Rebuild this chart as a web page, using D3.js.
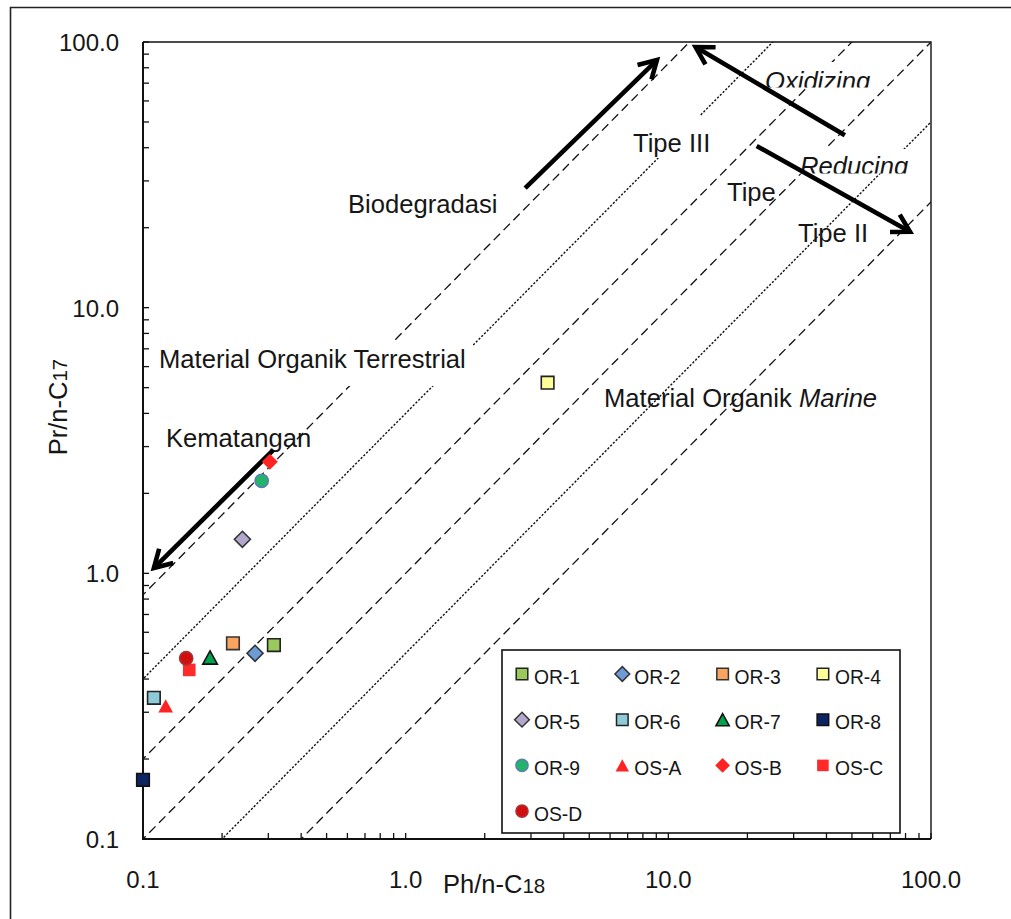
<!DOCTYPE html>
<html>
<head>
<meta charset="utf-8">
<script src="https://cdn.jsdelivr.net/npm/d3@7"></script>
<style>
  html, body { margin: 0; padding: 0; background: #fff; overflow: hidden; }
  svg { display: block; font-family: "Liberation Sans", Arial, Helvetica, sans-serif; }
</style>
</head>
<body>
<svg id="chart" width="1011" height="919"></svg>
<script>
// Pristane/n-C17 vs Phytane/n-C18 per sample
const sampleNames = ["OR-1", "OR-2", "OR-3", "OR-4", "OR-5", "OR-6", "OR-7",
                     "OR-8", "OR-9", "OS-A", "OS-B", "OS-C", "OS-D"];
const phC18 = [0.315, 0.267, 0.220, 3.47, 0.239, 0.110, 0.180,
               0.100, 0.283, 0.122, 0.304, 0.150, 0.146];
const prC17 = [0.537, 0.500, 0.545, 5.22, 1.343, 0.340, 0.482,
               0.167, 2.23, 0.317, 2.63, 0.433, 0.479];

// Marker appearance per sample (Excel-like series styles)
const markerShapes = ["square", "diamond", "square", "square", "diamond", "square", "triangle",
                      "square", "circle", "triangle", "diamond", "square", "circle"];
const markerFills = ["#98C95A", "#6C9BD6", "#F9A560", "#FFFF99", "#B4A7CC", "#8FCAD8", "#00A24B",
                     "#0B2462", "#22B46A", "#FF2424", "#FF2424", "#FF2A2A", "#D10D0D"];
const markerStrokes = ["#222", "#333", "#333", "#222", "#333", "#222", "#111",
                       "#111", "#5B7DB0", "none", "none", "none", "#A83232"];

// Pr/C17 = k * Ph/C18 boundary lines of the source-rock fields
const boundaryRatios = [8.3, 4, 2, 1, 0.5, 0.25];
const boundaryStyles = ["dash", "dot", "dash", "dash", "dot", "dash"];

// Axis ticks
const tickValues = [0.1, 1, 10, 100];
const tickLabels = ["0.1", "1.0", "10.0", "100.0"];

// Trend arrows: tail and head as [Ph/n-C18, Pr/n-C17]
const arrowNames = ["Biodegradasi", "Oxidizing", "Reducing", "Kematangan"];
const arrowTails = [[2.85, 28.2], [47.0, 44.6], [21.7, 40.6], [0.313, 2.91]];
const arrowHeads = [[9.05, 85.5], [12.7, 95.7], [83.2, 19.3], [0.110, 1.047]];

const svg = d3.select("#chart");
const plot = { left: 143, right: 931, top: 42, bottom: 839 };

const x = d3.scaleLog().domain([0.1, 100]).range([plot.left, plot.right]);
const y = d3.scaleLog().domain([0.1, 100]).range([plot.bottom, plot.top]);

// page background + outer frame
svg.append("rect").attr("width", 1011).attr("height", 919).attr("fill", "#fff");
svg.append("path").attr("d", "M10.5,930V7.5H1020")
  .attr("fill", "none").attr("stroke", "#222").attr("stroke-width", 1.6);

const defs = svg.append("defs");
defs.append("clipPath").attr("id", "plotClip")
  .append("rect").attr("x", plot.left).attr("y", plot.top)
  .attr("width", plot.right - plot.left).attr("height", plot.bottom - plot.top);

// boundary lines
const lineGen = d3.line().x(d => x(d[0])).y(d => y(d[1]));
svg.append("g").attr("clip-path", "url(#plotClip)")
  .selectAll("path").data(boundaryRatios).join("path")
  .attr("d", k => lineGen([[0.001, 0.001 * k], [1000, 1000 * k]]))
  .attr("fill", "none").attr("stroke", "#111")
  .attr("stroke-width", (k, i) => boundaryStyles[i] === "dot" ? 1.4 : 1.3)
  .attr("stroke-dasharray", (k, i) => boundaryStyles[i] === "dot" ? "2.2,1.7" : "9,5");

// annotation text boxes
const notes = svg.append("g").attr("fill", "#161616").attr("font-size", 25.6);

function noteBox(bx, by, bw, bh) {
  notes.append("rect").attr("x", bx).attr("y", by).attr("width", bw).attr("height", bh).attr("fill", "#fff");
}
function clippedNote(id, txt, tx, ty, bx, by, bw, bh) {
  defs.append("clipPath").attr("id", id)
    .append("rect").attr("x", bx).attr("y", by).attr("width", bw).attr("height", bh);
  noteBox(bx, by, bw, bh);
  notes.append("text").attr("x", tx).attr("y", ty).attr("font-style", "italic")
    .attr("clip-path", `url(#${id})`).text(txt);
}

noteBox(153, 340, 320, 46);
notes.append("text").attr("x", 159).attr("y", 368).text("Material Organik Terrestrial");

noteBox(628, 116, 86, 42);
notes.append("text").attr("x", 633).attr("y", 152).text("Tipe III");

clippedNote("clipOx", "Oxidizing", 765, 90, 760, 62, 118, 25.5);
clippedNote("clipRed", "Reducing", 800, 175, 796, 149, 120, 24.5);

notes.append("text").attr("x", 348).attr("y", 213).text("Biodegradasi");
notes.append("text").attr("x", 727).attr("y", 201).text("Tipe");
notes.append("text").attr("x", 798).attr("y", 242).text("Tipe II");
notes.append("text").attr("x", 166).attr("y", 447).text("Kematangan");
const marine = notes.append("text").attr("x", 604).attr("y", 407);
marine.append("tspan").text("Material Organik ");
marine.append("tspan").attr("font-style", "italic").text("Marine");

// trend arrows
const arrowG = svg.append("g").attr("fill", "none").attr("stroke", "#000")
  .attr("stroke-width", 4.6).attr("stroke-linejoin", "miter").attr("stroke-miterlimit", 10);
arrowNames.forEach((name, i) => {
  const x0 = x(arrowTails[i][0]), y0 = y(arrowTails[i][1]);
  const x1 = x(arrowHeads[i][0]), y1 = y(arrowHeads[i][1]);
  const ang = Math.atan2(y0 - y1, x0 - x1);
  const L = 20, spread = Math.PI / 6;
  const a1 = [x1 + L * Math.cos(ang + spread), y1 + L * Math.sin(ang + spread)];
  const a2 = [x1 + L * Math.cos(ang - spread), y1 + L * Math.sin(ang - spread)];
  arrowG.append("path").attr("d", `M${x0},${y0}L${x1},${y1}`);
  arrowG.append("path").attr("d", `M${a1[0]},${a1[1]}L${x1},${y1}L${a2[0]},${a2[1]}`);
});

// axes
const minorTicks = [];
[0.1, 1, 10].forEach(base => { for (let m = 1; m <= 9; m++) minorTicks.push(base * m); });
minorTicks.push(100);

const axisG = svg.append("g").attr("stroke", "#111");
axisG.selectAll(".ty").data(minorTicks).join("line").attr("class", "ty")
  .attr("x1", plot.left).attr("x2", plot.left + 6)
  .attr("y1", d => y(d)).attr("y2", d => y(d)).attr("stroke-width", 1.3);
axisG.selectAll(".tx").data(minorTicks).join("line").attr("class", "tx")
  .attr("y1", plot.bottom).attr("y2", plot.bottom - 6)
  .attr("x1", d => x(d)).attr("x2", d => x(d)).attr("stroke-width", 1.3);

// frame: thin top/right, heavier axes
svg.append("path").attr("d", `M${plot.left},${plot.top}H${plot.right}V${plot.bottom}`)
  .attr("fill", "none").attr("stroke", "#111").attr("stroke-width", 1.4);
svg.append("path").attr("d", `M${plot.left},${plot.top}V${plot.bottom}H${plot.right}`)
  .attr("fill", "none").attr("stroke", "#111").attr("stroke-width", 2);

const labelG = svg.append("g").attr("fill", "#161616").attr("font-size", 24);
labelG.selectAll(".ly").data(tickValues).join("text").attr("class", "ly")
  .attr("x", plot.left - 24).attr("y", d => y(d) + 9)
  .attr("text-anchor", "end").text((d, i) => tickLabels[i]);
labelG.selectAll(".lx").data(tickValues).join("text").attr("class", "lx")
  .attr("x", d => x(d)).attr("y", 888)
  .attr("text-anchor", "middle").text((d, i) => tickLabels[i]);

// axis titles
const xt = svg.append("text").attr("x", 443).attr("y", 893).attr("font-size", 25.5).attr("fill", "#161616");
xt.append("tspan").text("Ph/n-C");
xt.append("tspan").attr("font-size", 20.5).text("18");
const yt = svg.append("text").attr("transform", "translate(67,407) rotate(-90)")
  .attr("text-anchor", "middle").attr("font-size", 25.5).attr("fill", "#161616");
yt.append("tspan").text("Pr/n-C");
yt.append("tspan").attr("font-size", 20.5).text("17");

// marker shapes
function shapePath(shape, s) {
  if (shape === "square") { const h = 6.3 * s; return `M${-h},${-h}H${h}V${h}H${-h}Z`; }
  if (shape === "diamond") { const h = 8 * s; return `M0,${-h}L${h},0L0,${h}L${-h},0Z`; }
  if (shape === "triangle") { const w = 7.3 * s, h = 6.6 * s; return `M0,${-h}L${w},${h}L${-w},${h}Z`; }
  const r = 6.6 * s;
  return `M${r},0A${r},${r} 0 1 1 ${-r},0A${r},${r} 0 1 1 ${r},0Z`;
}

svg.append("g").selectAll("path").data(sampleNames).join("path")
  .attr("transform", (d, i) => `translate(${x(phC18[i])},${y(prC17[i])})`)
  .attr("d", (d, i) => shapePath(markerShapes[i], 1))
  .attr("fill", (d, i) => markerFills[i])
  .attr("stroke", (d, i) => markerStrokes[i])
  .attr("stroke-width", 1.6);

// legend
const legend = svg.append("g");
legend.append("rect").attr("x", 502).attr("y", 650).attr("width", 398).attr("height", 183)
  .attr("fill", "#fff").attr("stroke", "#111").attr("stroke-width", 1.6);
const entry = legend.selectAll(".entry").data(sampleNames).join("g").attr("class", "entry")
  .attr("transform", (d, i) => `translate(${522 + (i % 4) * 100.3},${674 + Math.floor(i / 4) * 45.7})`);
entry.append("path")
  .attr("d", (d, i) => shapePath(markerShapes[i], 0.92))
  .attr("fill", (d, i) => markerFills[i])
  .attr("stroke", (d, i) => markerStrokes[i])
  .attr("stroke-width", 1.5);
entry.append("text").attr("x", 12).attr("y", 9.5).attr("font-size", 19.3).attr("fill", "#161616")
  .text(d => d);
</script>
</body>
</html>
